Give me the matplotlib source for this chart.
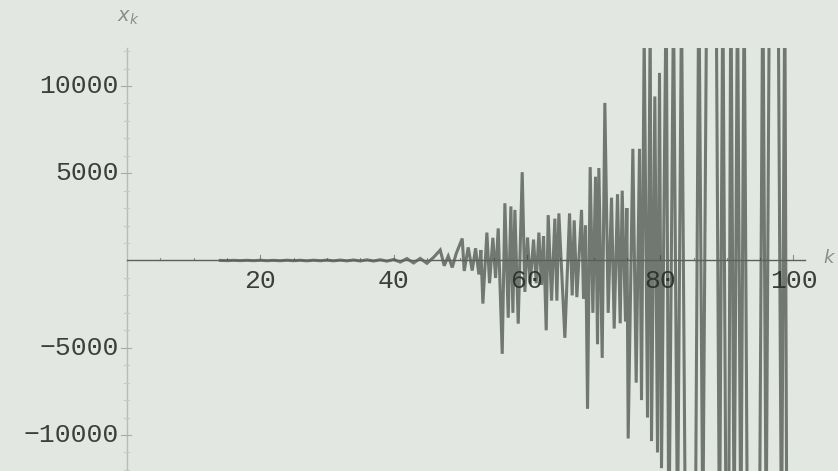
import numpy as np
import matplotlib
matplotlib.use("Agg")
import matplotlib.pyplot as plt
from matplotlib.patches import Rectangle

# Iterates x_k of an unstable recurrence: tiny round-off that grows until it explodes
k_values = [
    14, 15, 16, 17, 18, 19, 20, 21, 22, 23, 24, 25, 26, 27, 28, 29, 30, 31, 32, 33,
    34, 35, 36, 37, 38, 39, 40, 41, 42, 43, 44, 45, 46,
    47.0, 47.6, 48.2, 48.8, 49.4, 50.3, 50.6, 51.2, 51.8, 52.3, 52.8, 53.1, 53.4,
    54.0, 54.4, 54.9, 55.3, 55.7, 56.3, 56.7, 57.2, 57.6, 57.9, 58.2, 58.7, 59.3,
    59.7, 60.1, 60.5, 61.0, 61.4, 61.8, 62.2, 62.5, 62.9, 63.2, 63.7, 64.2, 64.5,
    64.8, 65.7, 66.4, 66.8, 67.1, 67.5, 68.2, 68.5, 68.8, 69.1, 69.5, 69.9, 70.3,
    70.6, 70.8, 71.3, 71.7, 72.2, 72.7, 73.1, 73.6, 74.0, 74.3, 74.8, 75.0, 75.2,
    75.9, 76.4, 76.9, 77.2, 77.6, 78.1, 78.5, 78.7, 79.2, 79.6, 79.9, 80.2,
    80.9, 81.3, 82.0, 82.6, 83.2, 83.8, 84.3, 85.3, 85.8, 86.4, 87.0, 87.5, 88.4,
    88.9, 89.4, 89.9, 90.3, 90.6, 91.1, 91.6, 92.1, 92.6, 93.1, 94.0, 94.9, 95.4,
    95.9, 96.4, 97.0, 97.7, 98.2, 98.7, 99.0,
]
x_values = [
    5, -8, 10, -8, 12, -10, 15, -12, 10, -15, 18, -12, 15, -20, 18, -15, 22, -20, 25, -22,
    30, -28, 38, -32, 45, -40, 60, -90, 110, -140, 120, -160, 180,
    600, -300, 250, -400, 400, 1260, -600, 750, -575, 700, -800, 600, -2470,
    1600, -1300, 1300, -1000, 1840, -5350, 3280, -3280, 3100, -3000, 2900, -3620, 5060,
    -1800, 1320, -1320, 1200, -1300, 1600, -1400, 1400, -4000, 2600, -2300, 2400, -2300,
    2700, -4430, 2700, -2000, 2300, -2100, 2900, -2200, 2000, -8500, 5350, -3000, 4800,
    -4800, 5300, -5580, 9030, -3000, 3600, -3900, 3800, -3600, 4000, -3500, 3000, -10200,
    6400, -7000, 6400, -8000, 13000, -9000, 14000, -10350, 9400, -11000, 10750, -11900,
    16000, -17000, 15000, -16000, 15000, -17000, -13000, -15000, 17000, -16000, 17000, 14000, 16000,
    -17000, 16000, -17000, -14000, 17000, -16000, 16000, -17000, 16000, -17000, -14000, -16000, 17000,
    -16000, 17000, 14000, 16000, -17000, 16000, -17000,
]

x_ticks = [20, 40, 60, 80, 100]
y_ticks = [-10000, -5000, 5000, 10000]

BG = "#e3e7e1"
AXIS = "#5c605c"
TEXT = "#3c403c"

fig = plt.figure(figsize=(8.38, 4.71), dpi=100, facecolor=BG)
ax = fig.add_axes([0, 0, 1, 1])
ax.set_facecolor(BG)
ax.set_xlim(-19.05, 106.68)
ax.set_ylim(-12062, 14927)
ax.axis("off")

k_end = 101.7
y_top = 12200

# axes through the origin
ax.plot([0, k_end], [0, 0], color=AXIS, lw=1.0, zorder=4)
ax.plot([0, 0], [-13000, y_top], color="#b8bcb8", lw=1.0, zorder=1)

# tick marks
dy_major, dy_minor = 300, 170
for t in np.arange(5, 101, 5):
    h = dy_major if t % 20 == 0 else dy_minor
    ax.plot([t, t], [0, h], color="#8a8e8a", lw=0.8, zorder=1)
dx_major, dx_minor = 0.9, 0.5
for v in np.arange(-12000, 12001, 1000):
    if v == 0:
        continue
    major = v % 5000 == 0
    w = dx_major if major else dx_minor
    ax.plot([-w, w * 0.6], [v, v], color="#a8aca8" if major else "#c6cac6",
            lw=0.8, zorder=1)

mono = "Liberation Mono"
for t in x_ticks:
    ax.text(t, -1150, str(t), ha="center", va="center", fontsize=19,
            family=mono, color=TEXT, zorder=2)
for v in y_ticks:
    ax.text(-1.2, v, str(v).replace("-", "\u2212"), ha="right", va="center",
            fontsize=19, family=mono, color=TEXT, zorder=2)

ax.text(0.15, 13950, r"$x_k$", ha="center", va="center", fontsize=14,
        color="#8a8e8a", zorder=2)
ax.text(106.4, 150, r"$k$", ha="right", va="center", fontsize=13,
        color="#8a8e8a", zorder=2)

# the sequence, clipped to the plot range
clip = Rectangle((0, -y_top - 2000), k_end, 2 * y_top + 2000,
                 transform=ax.transData, facecolor="none", edgecolor="none")
ax.add_patch(clip)
line, = ax.plot(k_values, x_values, color="#262c27", lw=2.2, alpha=0.6,
                solid_joinstyle="miter", zorder=3)
line.set_clip_path(clip)

fig.savefig("out.png", dpi=100, facecolor=BG)
